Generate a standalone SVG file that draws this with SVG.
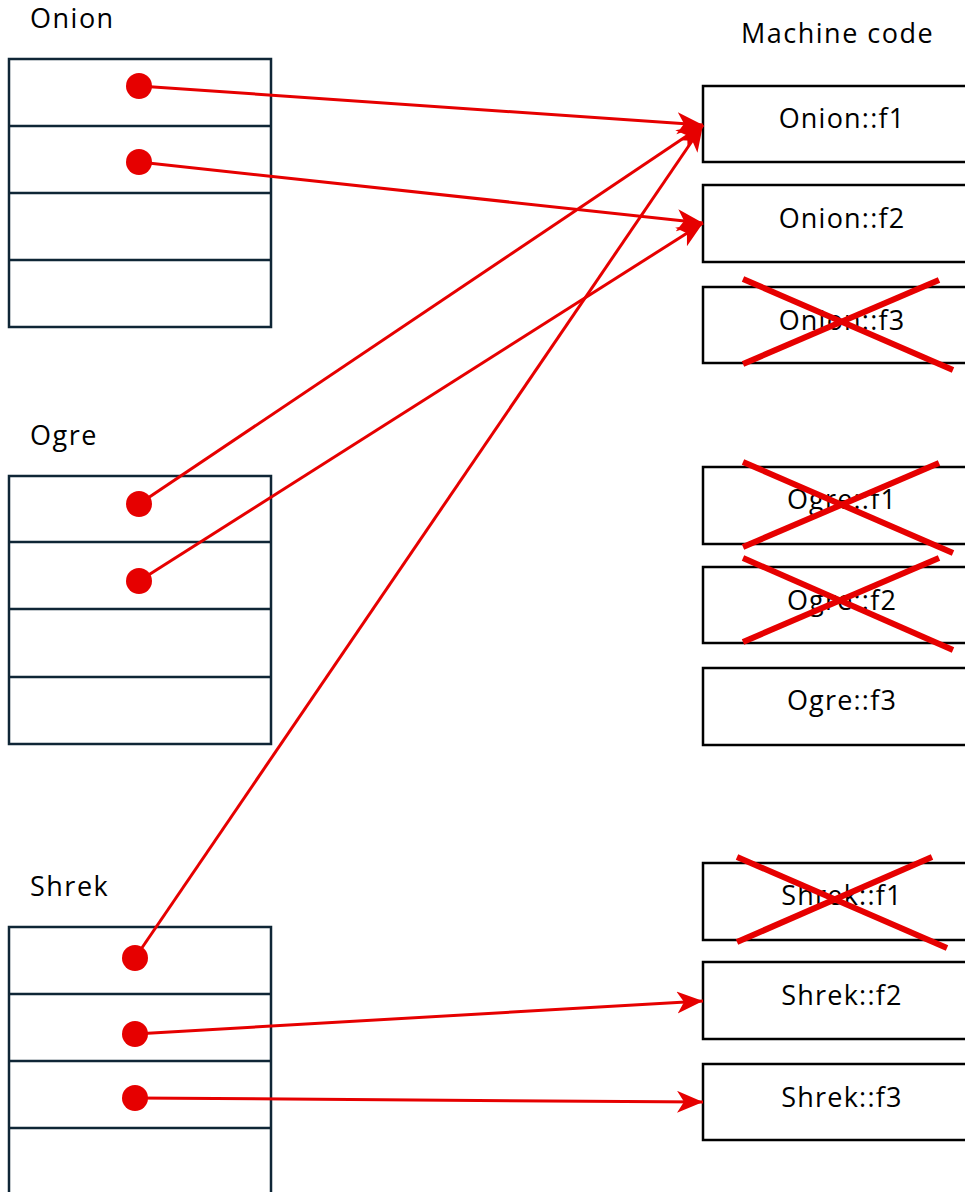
<svg xmlns="http://www.w3.org/2000/svg" width="965" height="1192" viewBox="0 0 965 1192">
<defs>
<style>
.lbl{font-family:"Open Sans","Liberation Sans",sans-serif;font-size:27px;letter-spacing:1.5px;fill:#000}
.fn{font-family:"Open Sans","Liberation Sans",sans-serif;font-size:27px;letter-spacing:1.2px;fill:#000;text-anchor:middle}
.tbl{fill:#fff;stroke:#0f2636;stroke-width:2.5}
.div{stroke:#0f2636;stroke-width:2.5}
.mc{fill:#fff;stroke:#000;stroke-width:2.5}
.dot{fill:#e60000}
.con{stroke:#e60000;stroke-width:3;fill:none;marker-end:url(#ah)}
.x{stroke:#e60000;stroke-width:6}
</style>
<marker id="ah" markerUnits="userSpaceOnUse" markerWidth="30" markerHeight="24" refX="26" refY="11" orient="auto">
<path d="M0,0 L26,11 L0,22 L7,11 z" fill="#e60000"/>
</marker>
</defs>
<rect width="965" height="1192" fill="#fff"/>

<g id="onion">
<text class="lbl" x="30" y="28">Onion</text>
<rect class="tbl" x="9" y="59" width="262" height="268"/>
<line class="div" x1="9" y1="126" x2="271" y2="126"/>
<line class="div" x1="9" y1="193" x2="271" y2="193"/>
<line class="div" x1="9" y1="260" x2="271" y2="260"/>
</g>
<g id="ogre">
<text class="lbl" x="30" y="445">Ogre</text>
<rect class="tbl" x="9" y="476" width="262" height="268"/>
<line class="div" x1="9" y1="542" x2="271" y2="542"/>
<line class="div" x1="9" y1="609" x2="271" y2="609"/>
<line class="div" x1="9" y1="677" x2="271" y2="677"/>
</g>
<g id="shrek">
<text class="lbl" x="30" y="896">Shrek</text>
<rect class="tbl" x="9" y="927" width="262" height="280"/>
<line class="div" x1="9" y1="994" x2="271" y2="994"/>
<line class="div" x1="9" y1="1061" x2="271" y2="1061"/>
<line class="div" x1="9" y1="1128" x2="271" y2="1128"/>
</g>

<text class="lbl" x="741" y="43">Machine code</text>

<g id="onion-f1"><rect class="mc" x="703" y="86" width="280" height="76"/><text class="fn" x="842" y="128">Onion::f1</text></g>
<g id="onion-f2"><rect class="mc" x="703" y="185" width="280" height="77"/><text class="fn" x="842" y="228">Onion::f2</text></g>
<g id="onion-f3"><rect class="mc" x="703" y="287" width="280" height="76"/><text class="fn" x="842" y="330">Onion::f3</text>
<line class="x" x1="743" y1="279" x2="953" y2="370"/><line class="x" x1="743" y1="364" x2="939" y2="280"/></g>
<g id="ogre-f1"><rect class="mc" x="703" y="467" width="280" height="77"/><text class="fn" x="842" y="509">Ogre::f1</text>
<line class="x" x1="743" y1="462" x2="953" y2="553"/><line class="x" x1="743" y1="547" x2="939" y2="463"/></g>
<g id="ogre-f2"><rect class="mc" x="703" y="567" width="280" height="76"/><text class="fn" x="842" y="610">Ogre::f2</text>
<line class="x" x1="743" y1="558" x2="953" y2="650"/><line class="x" x1="743" y1="642" x2="939" y2="558"/></g>
<g id="ogre-f3"><rect class="mc" x="703" y="668" width="280" height="77"/><text class="fn" x="842" y="710">Ogre::f3</text></g>
<g id="shrek-f1"><rect class="mc" x="703" y="863" width="280" height="77"/><text class="fn" x="842" y="905">Shrek::f1</text>
<line class="x" x1="737" y1="857" x2="947" y2="948"/><line class="x" x1="737" y1="942" x2="932" y2="857"/></g>
<g id="shrek-f2"><rect class="mc" x="703" y="962" width="280" height="77"/><text class="fn" x="842" y="1005">Shrek::f2</text></g>
<g id="shrek-f3"><rect class="mc" x="703" y="1064" width="280" height="76"/><text class="fn" x="842" y="1107">Shrek::f3</text></g>

<g id="connectors">
<line class="con" x1="139" y1="86" x2="703" y2="125"/>
<line class="con" x1="139" y1="162" x2="703" y2="223"/>
<line class="con" x1="139" y1="504" x2="703" y2="125"/>
<line class="con" x1="139" y1="581" x2="703" y2="223"/>
<line class="con" x1="135" y1="958" x2="703" y2="125"/>
<line class="con" x1="135" y1="1034" x2="703" y2="1001"/>
<line class="con" x1="135" y1="1098" x2="703" y2="1102"/>
<circle class="dot" cx="139" cy="86" r="13"/>
<circle class="dot" cx="139" cy="162" r="13"/>
<circle class="dot" cx="139" cy="504" r="13"/>
<circle class="dot" cx="139" cy="581" r="13"/>
<circle class="dot" cx="135" cy="958" r="13"/>
<circle class="dot" cx="135" cy="1034" r="13"/>
<circle class="dot" cx="135" cy="1098" r="13"/>
</g>
</svg>
